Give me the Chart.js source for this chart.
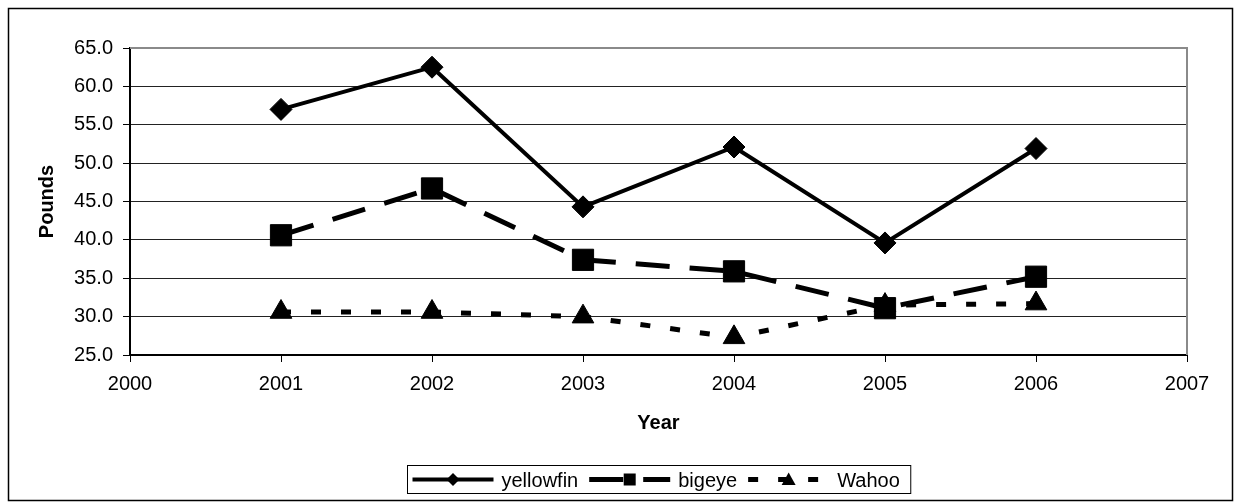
<!DOCTYPE html>
<html>
<head>
<meta charset="utf-8">
<script src="https://cdn.jsdelivr.net/npm/chart.js"></script>
<style>
    html, body { margin: 0; padding: 0; background: #fff; }
    #wrap { position: relative; width: 1235px; height: 503px; }
</style>
</head>
<body>
<div id="wrap"><canvas id="fish-chart"></canvas></div>
<script>
// values
const years = [2001, 2002, 2003, 2004, 2005, 2006];
const yellowfin = [57.0, 62.5, 44.3, 52.1, 39.6, 51.9];
const bigeye = [40.6, 46.7, 37.4, 35.9, 31.1, 35.2];
const wahoo = [30.6, 30.6, 30.0, 27.3, 31.5, 31.7];
const seriesNames = ["yellowfin", "bigeye", "Wahoo"];

const FONT = "'Liberation Sans', Arial, sans-serif";

function toPoints(values) {
    return years.map((year, i) => ({ x: year, y: values[i] }));
}

// little marker drawer for the legend samples
function drawMarker(ctx, style, x, y, r) {
    ctx.beginPath();
    if (style === "rectRot") {
        ctx.moveTo(x - r, y);
        ctx.lineTo(x, y - r);
        ctx.lineTo(x + r, y);
        ctx.lineTo(x, y + r);
    } else if (style === "rect") {
        ctx.rect(x - r, y - r, 2 * r, 2 * r);
    } else {
        ctx.moveTo(x, y - r);
        ctx.lineTo(x + r, y + r * 0.8);
        ctx.lineTo(x - r, y + r * 0.8);
    }
    ctx.closePath();
    ctx.fill();
}

// outer frame, grey top/right edge of the plot and the boxed legend
const excelFrame = {
    id: "excelFrame",
    beforeDraw(chart) {
        const ctx = chart.ctx;
        ctx.save();
        ctx.fillStyle = "#fff";
        ctx.fillRect(0, 0, chart.width, chart.height);
        ctx.strokeStyle = "#000";
        ctx.lineWidth = 1.5;
        ctx.strokeRect(8.5, 8.5, 1224, 492);
        ctx.restore();
    },
    afterDatasetsDraw(chart) {
        const { ctx, chartArea } = chart;
        ctx.save();
        ctx.strokeStyle = "#8a8a8a";
        ctx.lineWidth = 2;
        ctx.beginPath();
        ctx.moveTo(chartArea.left, chartArea.top);
        ctx.lineTo(chartArea.right, chartArea.top);
        ctx.lineTo(chartArea.right, chartArea.bottom);
        ctx.stroke();
        ctx.restore();
    },
    afterDraw(chart) {
        const { ctx, chartArea } = chart;
        const legendMarks = [
            { style: "rectRot", r: 6.5, width: 4, dash: [] },
            { style: "rect", r: 6, width: 5, dash: [34, 20] },
            { style: "triangle", r: 7, width: 5, dash: [10, 20] },
        ];
        const sampleW = 81;
        const gapText = 8;
        const gapItem = 11;
        ctx.save();
        ctx.font = "20px " + FONT;
        let total = 5;
        seriesNames.forEach((name) => {
            total += sampleW + gapText + ctx.measureText(name).width + gapItem;
        });
        const boxX = Math.round((chartArea.left + chartArea.right) / 2 - total / 2) + 0.5;
        const boxY = 465.5;
        const boxH = 28;
        const midY = boxY + boxH / 2;
        ctx.strokeStyle = "#000";
        ctx.lineWidth = 1;
        ctx.strokeRect(boxX, boxY, total, boxH);

        let x = boxX + 5;
        seriesNames.forEach((name, i) => {
            const m = legendMarks[i];
            ctx.strokeStyle = "#000";
            ctx.fillStyle = "#000";
            ctx.lineWidth = m.width;
            ctx.setLineDash(m.dash);
            ctx.beginPath();
            ctx.moveTo(x, midY);
            ctx.lineTo(x + sampleW, midY);
            ctx.stroke();
            ctx.setLineDash([]);
            drawMarker(ctx, m.style, x + sampleW / 2, midY, m.r);
            x += sampleW + gapText;
            ctx.textBaseline = "middle";
            ctx.textAlign = "left";
            ctx.fillText(name, x, midY + 2);
            x += ctx.measureText(name).width + gapItem;
        });
        ctx.restore();
    },
};

const fishChart = new Chart(document.getElementById("fish-chart"), {
    type: "line",
    data: {
        datasets: [
            {
                label: seriesNames[0],
                data: toPoints(yellowfin),
                borderColor: "#000",
                backgroundColor: "#000",
                borderWidth: 4,
                pointStyle: "rectRot",
                pointRadius: 11,
                pointBorderWidth: 1,
                pointBackgroundColor: "#000",
                pointBorderColor: "#000",
            },
            {
                label: seriesNames[1],
                data: toPoints(bigeye),
                borderColor: "#000",
                backgroundColor: "#000",
                borderWidth: 5,
                borderDash: [34, 20],
                pointStyle: "rect",
                pointRadius: 15,
                pointBorderWidth: 1,
                pointBackgroundColor: "#000",
                pointBorderColor: "#000",
            },
            {
                label: seriesNames[2],
                data: toPoints(wahoo),
                borderColor: "#000",
                backgroundColor: "#000",
                borderWidth: 5,
                borderDash: [10, 20],
                pointStyle: "triangle",
                pointRadius: 12.5,
                pointBorderWidth: 1,
                pointBackgroundColor: "#000",
                pointBorderColor: "#000",
            },
        ],
    },
    options: {
        responsive: true,
        maintainAspectRatio: false,
        animation: false,
        layout: {
            padding: { left: 8, top: 48, right: 48, bottom: 63 },
        },
        scales: {
            x: {
                type: "linear",
                min: 2000,
                max: 2007,
                afterFit: (scale) => { scale.height = 85; },
                border: { display: true, color: "#000", width: 2 },
                grid: {
                    drawOnChartArea: false,
                    drawTicks: true,
                    tickLength: 7,
                    color: "#000",
                    tickColor: "#000",
                },
                ticks: {
                    stepSize: 1,
                    padding: 10,
                    color: "#000",
                    maxRotation: 0,
                    font: { family: FONT, size: 20 },
                    callback: (value) => String(value),
                },
                title: {
                    display: true,
                    text: "Year",
                    color: "#000",
                    font: { family: FONT, size: 20, weight: "bold" },
                    padding: { top: 0, bottom: 5 },
                },
            },
            y: {
                min: 25,
                max: 65,
                afterFit: (scale) => { scale.width = 122; },
                border: { display: true, color: "#000", width: 2 },
                grid: {
                    drawTicks: true,
                    tickLength: 7,
                    color: (ctx) => (ctx.tick && ctx.tick.value === 65 ? "#8a8a8a" : "#222"),
                    tickColor: "#000",
                    lineWidth: 1,
                },
                ticks: {
                    stepSize: 5,
                    padding: 10,
                    color: "#000",
                    font: { family: FONT, size: 20 },
                    callback: (value) => value.toFixed(1),
                },
                title: {
                    display: true,
                    text: "Pounds",
                    color: "#000",
                    font: { family: FONT, size: 20, weight: "bold" },
                    padding: { top: 27, bottom: 0 },
                },
            },
        },
        plugins: {
            legend: { display: false },
            tooltip: { enabled: false },
        },
    },
    plugins: [excelFrame],
});
</script>
</body>
</html>
